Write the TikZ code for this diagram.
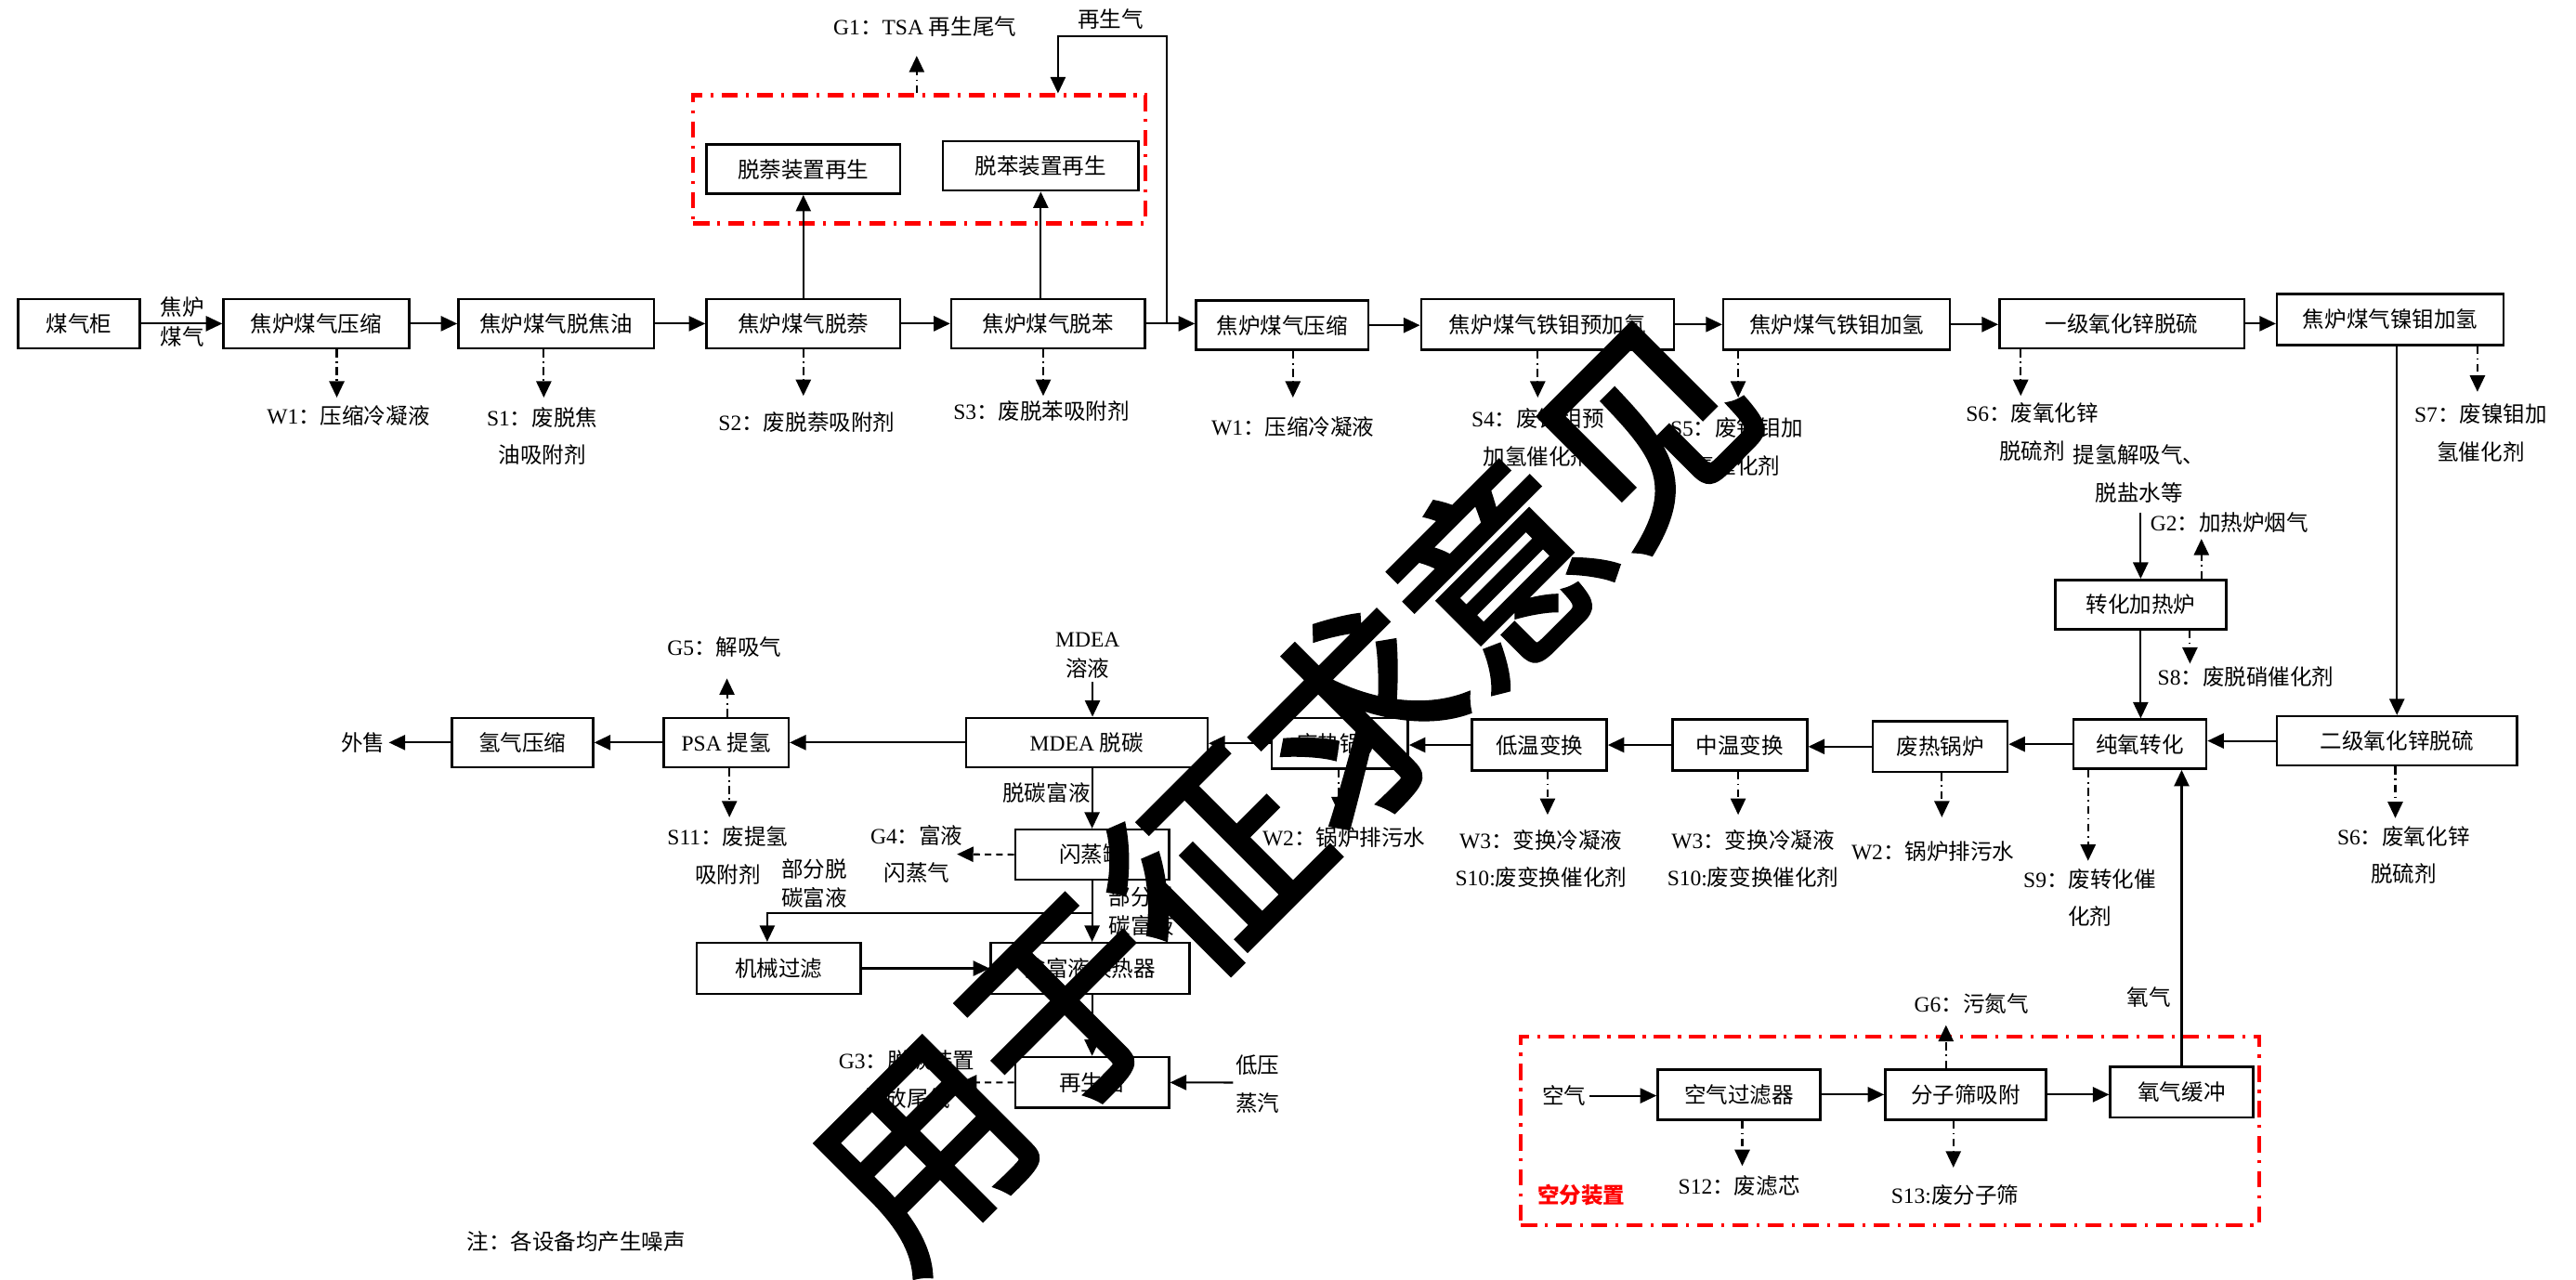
\documentclass[tikz,border=0pt]{standalone}
\usepackage{fontspec}
\usetikzlibrary{arrows.meta,calc}
\setmainfont{Liberation Serif}
\newfontfamily\cjkf{Noto Sans CJK SC}
\newfontfamily\latf{Liberation Serif}
\newfontfamily\wmfont[FakeBold=2.5]{Noto Sans CJK SC}
\XeTeXinterchartokenstate=1
\newXeTeXintercharclass\cjkcls
\count255="3000
\loop\ifnum\count255<"3040 \XeTeXcharclass\count255=\cjkcls \advance\count255 by 1 \repeat
\count255="4E00
\loop\ifnum\count255<"A000 \XeTeXcharclass\count255=\cjkcls \advance\count255 by 1 \repeat
\count255="FF00
\loop\ifnum\count255<"FFF0 \XeTeXcharclass\count255=\cjkcls \advance\count255 by 1 \repeat
\XeTeXinterchartoks 0 \cjkcls = {\cjkf}
\XeTeXinterchartoks 4095 \cjkcls = {\cjkf}
\XeTeXinterchartoks \cjkcls 0 = {\latf}
\XeTeXinterchartoks \cjkcls 4095 = {\latf}
\newdimen\sunit
\sunit=0.017685cm
\newcommand\fsA{\fontsize{6.7pt}{11.6pt}\selectfont}
\newcommand\fsB{\fontsize{6.7pt}{9pt}\selectfont}
\tikzset{
  bxs/.style={draw, line width=0.7pt, inner sep=0pt, font=\fsA},
  lbl/.style={inner sep=1pt, align=center, font=\fsA},
  lbls/.style={inner sep=1pt, align=center, font=\fsB},
  ln/.style={line width=0.6pt},
  arr/.style={ln, -{Triangle[length=5pt,width=4.6pt]}},
  darr/.style={arr, dash pattern=on 2.4pt off 1.3pt on 0.5pt off 1.3pt},
  harr/.style={arr, dash pattern=on 2pt off 1.5pt},
  redbox/.style={draw=red, line width=1.2pt, dash pattern=on 4.9pt off 2.5pt on 0.9pt off 2.5pt, inner sep=0pt},
}
\newcommand\bx[6]{\node[bxs, minimum width={(#4-(#2))*\sunit}, minimum height={(#5-(#3))*\sunit}] (#1) at ({(#2+#4)/2},{(#3+#5)/2}) {#6};}
\newcommand\emd[4]{\coordinate (#1) at (#3,#4); \draw[darr] (#2 -| #1) -- (#1);}
\begin{document}
\begin{tikzpicture}[x=0.017685cm,y=-0.017685cm]
\path[use as bounding box, fill=white] (0,0) rectangle (1568,779);

% red groups
\node[redbox, minimum width={275*\sunit}, minimum height={78*\sunit}] (tsa) at (559.5,97) {};
\node[redbox, minimum width={449.5*\sunit}, minimum height={114.6*\sunit}] (asu) at (1150.55,688.3) {};

% top row
\bx{c1}{11}{182}{85}{212}{煤气柜}
\bx{c2}{136}{182}{249}{212}{焦炉煤气压缩}
\bx{c3}{279}{182}{398}{212}{焦炉煤气脱焦油}
\bx{c4}{430}{182}{548}{212}{焦炉煤气脱萘}
\bx{c5}{579}{182}{697}{212}{焦炉煤气脱苯}
\bx{c6}{728}{183}{833}{213}{焦炉煤气压缩}
\bx{c7}{865}{182}{1019}{213}{焦炉煤气铁钼预加氢}
\bx{c8}{1049}{182}{1187}{213}{焦炉煤气铁钼加氢}
\bx{c9}{1217}{182}{1366}{212}{一级氧化锌脱硫}
\bx{c10}{1386}{179}{1524}{210}{焦炉煤气镍钼加氢}
\bx{r1}{430}{88}{548}{118}{脱萘装置再生}
\bx{r2}{574}{86}{693}{116}{脱苯装置再生}

% middle
\bx{e2}{1386}{436}{1532}{466}{二级氧化锌脱硫}
\bx{hf}{1251}{353}{1355}{383}{转化加热炉}
\bx{cy}{1262}{438}{1343}{468}{纯氧转化}
\bx{wb1}{1140}{439}{1222}{470}{废热锅炉}
\bx{mt}{1018}{438}{1100}{469}{中温变换}
\bx{lt}{896}{438}{978}{469}{低温变换}
\bx{wb2}{774}{437}{857}{468}{废热锅炉}
\bx{md}{588}{437}{735}{467}{MDEA 脱碳}
\bx{ps}{404}{437}{480}{467}{PSA 提氢}
\bx{hc}{275}{437}{361}{467}{氢气压缩}

% lower
\bx{ft}{618}{505}{711.5}{535.5}{闪蒸罐}
\bx{mf}{424}{574}{524}{605}{机械过滤}
\bx{hx}{603}{574}{724}{605}{贫富液换热器}
\bx{rg}{618}{643.5}{711.5}{674.4}{再生塔}

% air separation
\bx{af}{1009}{651}{1108}{681.6}{空气过滤器}
\bx{ms}{1147.5}{651}{1245.5}{681.6}{分子筛吸附}
\bx{ob}{1284.5}{649.4}{1371.4}{680.3}{氧气缓冲}

% top row arrows
\node[lbls] (tjl) at (111,196) {焦炉\\煤气};
\draw[arr] (c1.east) -- (c1.east -| c2.west);
\draw[arr] (c2.east) -- (c2.east -| c3.west);
\draw[arr] (c3.east) -- (c3.east -| c4.west);
\draw[arr] (c4.east) -- (c4.east -| c5.west);
\draw[arr] (c5.east) -- (c5.east -| c6.west);
\draw[arr] (c6.east) -- (c6.east -| c7.west);
\draw[arr] (c7.east) -- (c7.east -| c8.west);
\draw[arr] (c8.east) -- (c8.east -| c9.west);
\draw[arr] (c9.east) -- (c9.east -| c10.west);

% regeneration loop
\coordinate (jn) at (710,197);
\coordinate (lp1) at (710,22);
\coordinate (lp2) at (644,22);
\draw[arr] (jn) -- (lp1) -- (lp2) -- (lp2 |- tsa.north);
\node[lbl] (tzs) at (676,11.5) {再生气};
\draw[arr] (c4.north) -- (c4.north |- r1.south);
\draw[arr] (c5.north -| r2.south) -- (r2.south);
\emd{eg1}{tsa.north}{558}{34}
\node[lbl] (tg1) at (563,16) {G1：TSA 再生尾气};

% top emissions
\emd{ec2}{c2.south}{205}{242}
\node[lbl] (tw1a) at (212,253) {W1：压缩冷凝液};
\emd{ec3}{c3.south}{331}{242}
\node[lbl] (ts1) at (330,265.5) {S1：废脱焦\\油吸附剂};
\emd{ec4}{c4.south}{489}{241}
\node[lbl] (ts2) at (491,257) {S2：废脱萘吸附剂};
\emd{ec5}{c5.south}{635}{241}
\node[lbl] (ts3) at (634,250) {S3：废脱苯吸附剂};
\emd{ec6}{c6.south}{787}{242}
\node[lbl] (tw1b) at (787,260) {W1：压缩冷凝液};
\emd{ec7}{c7.south}{936}{242}
\node[lbl] (ts4) at (936,266.5) {S4：废铁钼预\\加氢催化剂};
\emd{ec8}{c8.south}{1058}{242}
\node[lbl] (ts5) at (1057,272) {S5：废铁钼加\\氢催化剂};
\emd{ec9}{c9.south}{1230}{241}
\node[lbl] (ts6a) at (1237,263) {S6：废氧化锌\\脱硫剂};
\node[lbl] (tqj) at (1302,288.5) {提氢解吸气、\\脱盐水等};
\emd{ec10}{c10.south}{1508}{238.5}
\node[lbl] (ts7) at (1510,263.5) {S7：废镍钼加\\氢催化剂};

% right column
\draw[arr] (c10.south -| e2.north) -- (e2.north);
\draw[arr] (e2.west) -- (e2.west -| cy.east);
\emd{es6b}{e2.south}{1458}{498}
\node[lbl] (ts6b) at (1463,520.5) {S6：废氧化锌\\脱硫剂};
\coordinate (hin) at (1303,312);
\draw[arr] (hin) -- (hin |- hf.north);
\draw[arr] (hf.south) -- (hf.south |- cy.north);
\emd{eg2}{hf.north}{1340}{328}
\node[lbl] (tg2) at (1357,318) {G2：加热炉烟气};
\emd{es8}{hf.south}{1333}{404}
\node[lbl] (ts8) at (1367,412) {S8：废脱硝催化剂};
\emd{es9}{cy.south}{1271}{524}
\node[lbl] (ts9) at (1272,546.5) {S9：废转化催\\化剂};

% middle row
\draw[arr] (cy.west) -- (cy.west -| wb1.east);
\draw[arr] (wb1.west) -- (wb1.west -| mt.east);
\draw[arr] (mt.west) -- (mt.west -| lt.east);
\draw[arr] (lt.west) -- (lt.west -| wb2.east);
\draw[arr] (wb2.west) -- (wb2.west -| md.east);
\draw[arr] (md.west) -- (md.west -| ps.east);
\draw[arr] (ps.west) -- (ps.west -| hc.east);
\node[lbl] (tws) at (221,452) {外售};
\draw[arr] (hc.west) -- (hc.west -| tws.east);

\emd{ew2b}{wb2.south}{815}{495}
\node[lbl] (tw2b) at (818,510) {W2：锅炉排污水};
\emd{elt}{lt.south}{942}{496}
\node[lbl] (tlt) at (938,522.7) {W3：变换冷凝液\\S10:废变换催化剂};
\emd{emt}{mt.south}{1058}{496}
\node[lbl] (tmt) at (1067,522.7) {W3：变换冷凝液\\S10:废变换催化剂};
\emd{ew2a}{wb1.south}{1182}{497.5}
\node[lbl] (tw2a) at (1176.5,518.4) {W2：锅炉排污水};

\emd{eg5}{ps.north}{442.5}{413}
\node[lbl] (tg5) at (441,394) {G5：解吸气};
\emd{es11}{ps.south}{444}{497.5}
\node[lbl] (ts11) at (443,521) {S11：废提氢\\吸附剂};

% MDEA section
\node[lbls] (tmdea) at (662,399) {MDEA\\溶液};
\coordinate (mdin) at (665,415);
\draw[arr] (mdin) -- (mdin |- md.north);
\node[lbl] (ttf) at (637,482.5) {脱碳富液};
\draw[arr] (md.south -| ft.north) -- (ft.north);
\coordinate (eg4) at (582.5,520);
\draw[harr] (ft.west) -- (eg4);
\node[lbl] (tg4) at (558,520) {G4：富液\\闪蒸气};
\draw[arr] (ft.south) -- (ft.south |- hx.north);
\coordinate (br1) at (664.75,555.7);
\coordinate (br2) at (467,555.7);
\draw[arr] (br1) -- (br2) -- (br2 |- mf.north);
\node[lbls] (tbf1) at (495.6,537.7) {部分脱\\碳富液};
\node[lbls] (tbf2) at (695,554.7) {部分脱\\碳富液};
\draw[arr] (mf.east) -- (mf.east -| hx.west);
\draw[arr] (hx.south -| rg.north) -- (rg.north);
\coordinate (eg3) at (584.5,659);
\draw[harr] (rg.west) -- (eg3);
\node[lbl] (tg3) at (552,657) {G3：脱碳装置\\排放尾气};
\node[lbl] (tdy) at (765.6,659.8) {低压\\蒸汽};
\coordinate (dyin) at (750.5,659);
\draw[arr] (dyin) -- (rg.east);

% air separation
\node[lbl] (tair) at (952,667) {空气};
\draw[arr] (tair.east) -- (tair.east -| af.west);
\draw[arr] (af.east) -- (af.east -| ms.west);
\draw[arr] (ms.east) -- (ms.east -| ob.west);
\emd{eg6}{ms.north}{1184.5}{624}
\node[lbl] (tg6) at (1200,611) {G6：污氮气};
\emd{es12}{af.south}{1060.5}{709.8}
\node[lbl] (ts12) at (1058.6,722) {S12：废滤芯};
\emd{es13}{ms.south}{1189}{710.7}
\node[lbl] (ts13) at (1190,727.7) {S13:废分子筛};
\node[lbl, text=red, font=\fsA\bfseries] (tkf) at (962.6,727.7) {空分装置};
\draw[arr] (ob.north) -- (ob.north |- cy.south);
\node[lbl] (tyq) at (1308,607) {氧气};

\node[lbl] (tnote) at (350.7,756) {注：各设备均产生噪声};

% watermark
\node[rotate=45, inner sep=0pt, font={\XeTeXinterchartokenstate=0 \wmfont\fontsize{62.5pt}{62.5pt}\selectfont}] (wm) at (781,480) {用于征求意见};
\end{tikzpicture}
\end{document}
